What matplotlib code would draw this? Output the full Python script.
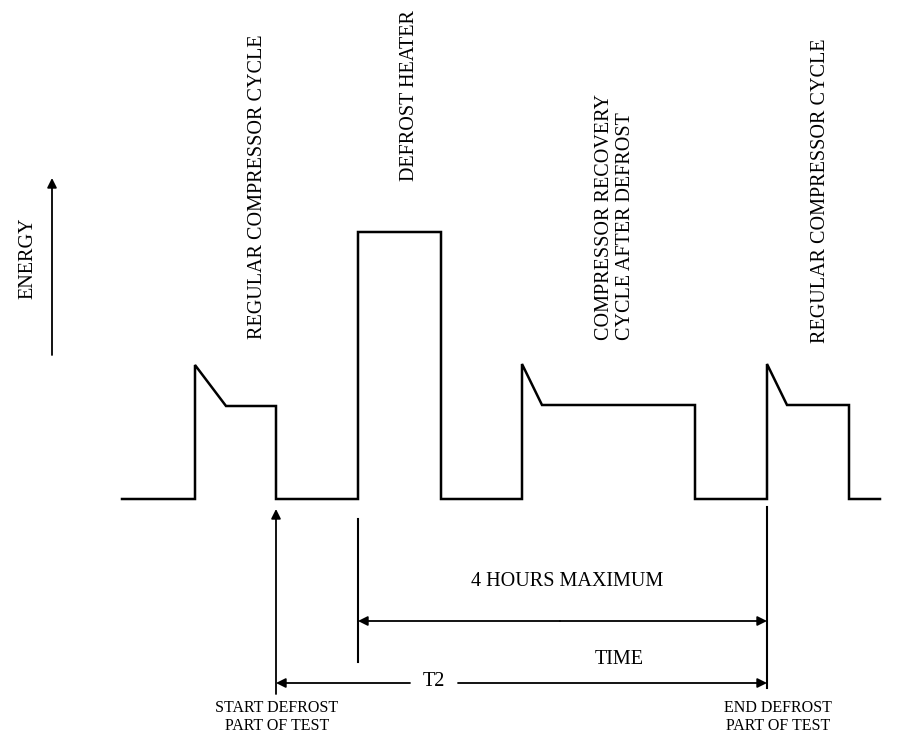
import matplotlib
matplotlib.use("Agg")
import matplotlib.pyplot as plt

# ---- data (schematic waveform: time vs energy, arbitrary units) ----
time_pts = [122, 195, 195, 226, 276, 276, 358, 358, 441, 441, 522, 522, 542,
            695, 695, 767, 767, 787, 849, 849, 880]
energy_pts = [0, 0, 134, 93, 93, 0, 0, 267, 267, 0, 0, 135, 94,
              94, 0, 0, 135, 94, 94, 0, 0]

cycle_labels = ["REGULAR COMPRESSOR CYCLE", "DEFROST HEATER",
                "COMPRESSOR RECOVERY\nCYCLE AFTER DEFROST",
                "REGULAR COMPRESSOR CYCLE"]

start_defrost_t = 276
heater_on_t = 358
end_defrost_t = 767

plt.rcParams['font.family'] = ['Liberation Serif', 'DejaVu Serif']

W, H = 912, 737
base = 499  # baseline row
fig = plt.figure(figsize=(W / 100, H / 100), dpi=100)
ax = fig.add_axes([0, 0, 1, 1])
ax.set_xlim(0, W)
ax.set_ylim(base - H, base)
ax.axis('off')

ax.plot(time_pts, energy_pts, color='black', lw=1.8, solid_joinstyle='miter')

def e(y):
    return base - y

arrow_kw = dict(arrowstyle='-|>', color='black', lw=1.3, mutation_scale=14,
                shrinkA=0, shrinkB=0)
FS = 14.5

# Energy axis arrow
ax.annotate('', xy=(52, e(178)), xytext=(52, e(355)), arrowprops=arrow_kw)
ax.text(28, e(258), 'ENERGY', rotation=90, ha='center', va='center', fontsize=FS)

# cycle labels (vertical)
ax.text(258, e(339), cycle_labels[0], rotation=90, ha='center', va='bottom', fontsize=FS)
ax.text(410, e(10), cycle_labels[1], rotation=90, ha='center', va='top', fontsize=FS)
ax.text(615, e(340), cycle_labels[2], rotation=90, ha='center', va='bottom',
        fontsize=FS, multialignment='left', linespacing=1.1)
ax.text(821, e(343), cycle_labels[3], rotation=90, ha='center', va='bottom', fontsize=FS)

# start defrost arrow
ax.annotate('', xy=(start_defrost_t, e(509)), xytext=(start_defrost_t, e(694)),
            arrowprops=arrow_kw)
# heater on vertical line
ax.plot([heater_on_t, heater_on_t], [e(519), e(662)], color='black', lw=1.5)
# end defrost vertical line
ax.plot([end_defrost_t, end_defrost_t], [e(507), e(688)], color='black', lw=1.5)

# 4 hours maximum double arrow
ax.annotate('', xy=(heater_on_t, e(621)), xytext=(560, e(621)), arrowprops=arrow_kw)
ax.annotate('', xy=(end_defrost_t, e(621)), xytext=(560, e(621)), arrowprops=arrow_kw)
ax.text(567, e(581), '4 HOURS MAXIMUM', ha='center', va='center', fontsize=FS)

# T2 arrows
ax.annotate('', xy=(start_defrost_t, e(683)), xytext=(410, e(683)), arrowprops=arrow_kw)
ax.annotate('', xy=(end_defrost_t, e(683)), xytext=(458, e(683)), arrowprops=arrow_kw)
ax.text(434, e(682), 'T2', ha='center', va='center', fontsize=FS)
ax.text(619, e(659), 'TIME', ha='center', va='center', fontsize=FS)

ax.text(277, e(717), 'START DEFROST\nPART OF TEST', ha='center', va='center',
        fontsize=11.5, linespacing=1.15)
ax.text(778, e(717), 'END DEFROST\nPART OF TEST', ha='center', va='center',
        fontsize=11.5, linespacing=1.15)

fig.savefig('out.png', dpi=100, facecolor='white')
